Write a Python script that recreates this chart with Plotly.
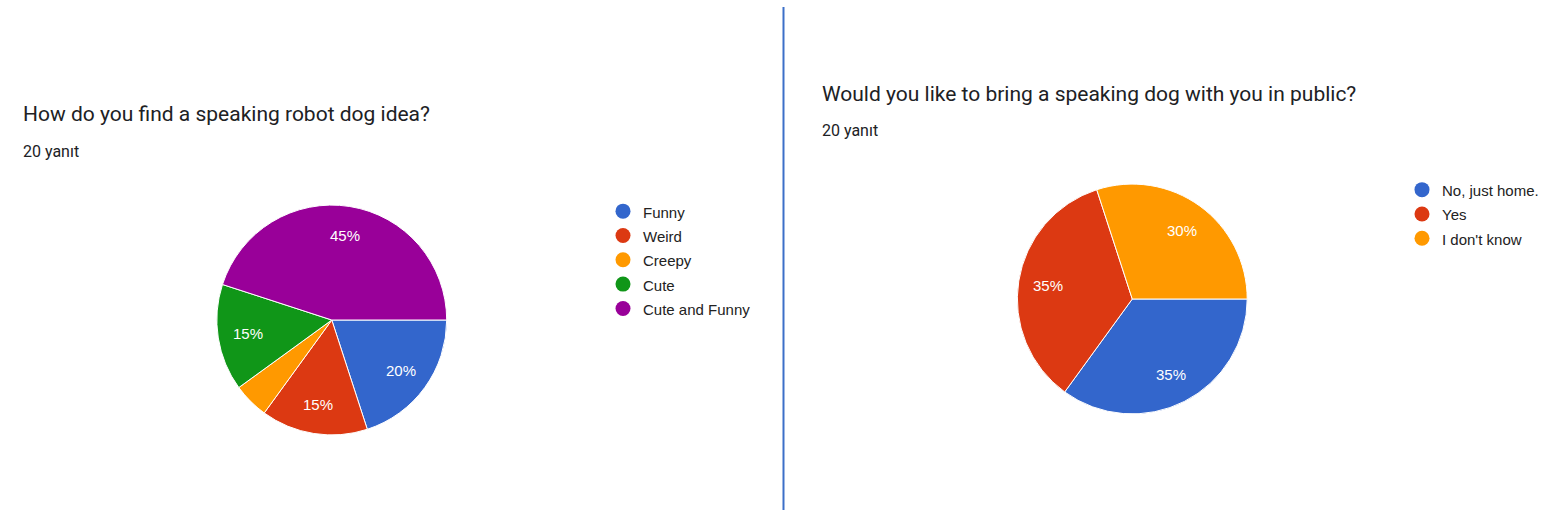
import math
import plotly.graph_objects as go

# Data
q1_title = "How do you find a speaking robot dog idea?"
q1_labels = ["Funny", "Weird", "Creepy", "Cute", "Cute and Funny"]
q1_values = [4, 3, 1, 3, 9]
q2_title = "Would you like to bring a speaking dog with you in public?"
q2_labels = ["No, just home.", "Yes", "I don't know"]
q2_values = [7, 7, 6]
responses_text = "20 yanıt"

palette = ["#3366cc", "#dc3912", "#ff9900", "#109618", "#990099"]

W, H = 1544, 518
R = 115
PIE1 = (332, 320)
PIE2 = (1133, 299)
LABEL_FONT = dict(color="white", size=15, family="Arial, Liberation Sans")


def dom(cx, cy, r):
    return dict(x=[(cx - r) / W, (cx + r) / W], y=[(H - cy - r) / H, (H - cy + r) / H])


def slice_labels(values, center, min_pct=6, rfrac=0.74):
    """Percent labels placed on each slice's bisector (start at 3 o'clock, clockwise)."""
    total = sum(values)
    cx, cy = center
    anns = []
    cum = 0
    for v in values:
        mid = (cum + v / 2) / total * 2 * math.pi
        cum += v
        p = round(v / total * 100)
        if p < min_pct:
            continue
        px = cx + rfrac * R * math.cos(mid)
        py = cy + rfrac * R * math.sin(mid)
        anns.append(dict(text=f"{p}%", x=px / W, y=(H - py) / H, xref="paper", yref="paper",
                         xanchor="center", yanchor="middle", showarrow=False, font=LABEL_FONT))
    return anns


fig = go.Figure()

for labels, values, center in [(q1_labels, q1_values, PIE1), (q2_labels, q2_values, PIE2)]:
    fig.add_trace(go.Pie(
        labels=labels, values=values, sort=False, direction="clockwise", rotation=90,
        marker=dict(colors=palette[:len(values)], line=dict(color="white", width=1)),
        textinfo="none",
        domain=dom(center[0], center[1], R), showlegend=False, hoverinfo="label+percent",
    ))

# legend entries with round markers
for leg, labels in [("legend", q1_labels), ("legend2", q2_labels)]:
    for i, lab in enumerate(labels):
        fig.add_trace(go.Scatter(x=[None], y=[None], mode="markers",
                                 name=f'<span style="font-size:15px">{lab}</span>',
                                 marker=dict(color=palette[i], size=15, symbol="circle"),
                                 legend=leg, showlegend=True, hoverinfo="skip"))

legend_common = dict(font=dict(family="Arial, Liberation Sans", size=16.4, color="#222222"),
                     itemsizing="trace", bgcolor="rgba(0,0,0,0)", xanchor="left", yanchor="top",
                     tracegroupgap=0, itemclick=False, itemdoubleclick=False)

annotations = [
    dict(text=q1_title, x=21 / W, y=(H - 114) / H, xref="paper", yref="paper",
         xanchor="left", yanchor="middle", showarrow=False,
         font=dict(family="Roboto", size=21, color="#202124")),
    dict(text=responses_text, x=21 / W, y=(H - 152) / H, xref="paper", yref="paper",
         xanchor="left", yanchor="middle", showarrow=False,
         font=dict(family="Roboto", size=16, color="#202124")),
    dict(text=q2_title, x=821 / W, y=(H - 94) / H, xref="paper", yref="paper",
         xanchor="left", yanchor="middle", showarrow=False,
         font=dict(family="Roboto", size=21, color="#202124")),
    dict(text=responses_text, x=821 / W, y=(H - 130) / H, xref="paper", yref="paper",
         xanchor="left", yanchor="middle", showarrow=False,
         font=dict(family="Roboto", size=16, color="#202124")),
]
annotations += slice_labels(q1_values, PIE1)
annotations += slice_labels(q2_values, PIE2)

fig.update_layout(
    width=W, height=H,
    margin=dict(l=0, r=0, t=0, b=0),
    paper_bgcolor="white", plot_bgcolor="white",
    xaxis=dict(visible=False, domain=[0, 0.01]), yaxis=dict(visible=False, domain=[0, 0.01]),
    legend=dict(x=603 / W, y=(H - 194) / H, **legend_common),
    legend2=dict(x=1403 / W, y=(H - 172.5) / H, **legend_common),
    shapes=[dict(type="line", xref="paper", yref="paper", x0=784 / W, x1=784 / W,
                 y0=(H - 510) / H, y1=(H - 7) / H, line=dict(color="#3c6fc8", width=2))],
    annotations=annotations,
)

fig.write_html("out.html", config={"displayModeBar": False})
